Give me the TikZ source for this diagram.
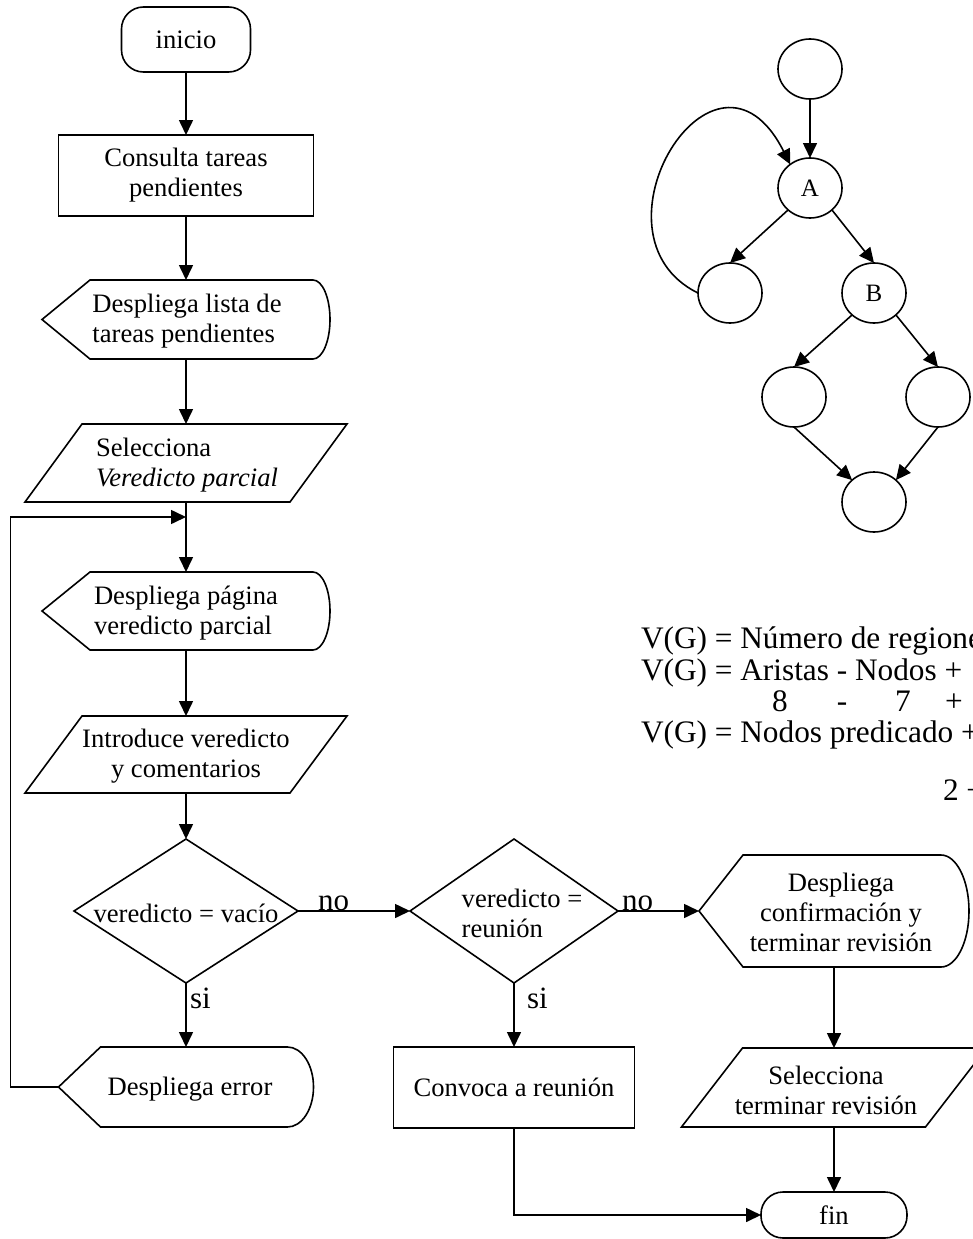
\documentclass[tikz,border=0pt]{standalone}
\usepackage{fontspec}
\setmainfont{Liberation Serif}
\usetikzlibrary{arrows.meta,calc,shapes.geometric}

\newcommand\flowfont{\fontsize{26.6pt}{30pt}\selectfont}
\newcommand\formfont{\fontsize{31.3pt}{35pt}\selectfont}
\newcommand\lblfont{\fontsize{31pt}{34pt}\selectfont}
\newcommand\gfont{\fontsize{25pt}{29pt}\selectfont}

% display symbol: pointed left end, curved right end
% #1 node, #2 corner offset, #3 arc x radius, #4 arc y radius
\newcommand\dispshape[4]{%
  \draw (#1.west) -- ($(#1.north west)+(#2,0)$) -- ($(#1.north east)+(-#3,0)$)
    arc[start angle=90, end angle=-90, x radius=#3pt, y radius=#4pt]
    -- ($(#1.south west)+(#2,0)$) -- cycle;}
% input/output parallelogram: #1 node, #2 slant
\newcommand\parashape[2]{%
  \draw (#1.south west) -- ($(#1.north west)+(#2,0)$) -- (#1.north east)
    -- ($(#1.south east)+(-#2,0)$) -- cycle;}
% decision rhombus
\newcommand\rhombshape[1]{%
  \draw (#1.north) -- (#1.east) -- (#1.south) -- (#1.west) -- cycle;}

\begin{document}
\begin{tikzpicture}[x=1pt,y=-1pt,line width=1.6pt,
  every node/.style={inner sep=0pt, outer sep=0pt},
  txt/.style={font=\flowfont, align=center},
  txtl/.style={font=\flowfont, align=left},
  term/.style={draw, rounded corners=22pt, font=\flowfont},
  proc/.style={draw, font=\flowfont, align=center},
  gnode/.style={draw, ellipse, minimum width=64pt, minimum height=60pt, font=\gfont},
  lbl/.style={font=\lblfont, anchor=base west},
  form/.style={font=\formfont, anchor=base west},
  arr/.style={-{Triangle[length=15pt,width=14pt]}}]

\useasboundingbox (0,0) rectangle (973,1239);
\clip (0,0) rectangle (973,1239);

% ---------- left column ----------
\node[term, minimum width=129pt, minimum height=65pt] (inicio) at (186,39.5) {inicio};
\node[proc, minimum width=255pt, minimum height=81pt] (consulta) at (186,175.5) {Consulta tareas\\pendientes};

\node[minimum width=288pt, minimum height=79pt] (lista) at (186,319.5) {};
\dispshape{lista}{48}{17}{39.5}
\node[txtl] (listat) at (187,321) {Despliega lista de\\tareas pendientes};

\node[minimum width=322pt, minimum height=78pt] (sel1) at (186,463) {};
\parashape{sel1}{57}
\node[txtl] (sel1t) at (187,465) {Selecciona\\\textit{Veredicto parcial}};

\coordinate (merge) at (186,517);

\node[minimum width=288pt, minimum height=78pt] (pagina) at (186,611) {};
\dispshape{pagina}{48}{17}{39}
\node[txtl] (paginat) at (186,613) {Despliega página\\veredicto parcial};

\node[minimum width=322pt, minimum height=77pt] (intro) at (186,754.5) {};
\parashape{intro}{57}
\node[txt] (introt) at (186,756) {Introduce veredicto\\y comentarios};

\node[minimum width=224pt, minimum height=144pt] (vacio) at (186,911) {};
\rhombshape{vacio}
\node[txt] (vaciot) at (186,913) {veredicto = vacío};

\node[minimum width=255pt, minimum height=80pt] (err) at (186,1087) {};
\dispshape{err}{42}{26}{40}
\node[txt] (errt) at (190,1089) {Despliega error};

% ---------- middle and right columns ----------
\node[minimum width=208pt, minimum height=144pt] (reunion) at (514,911) {};
\rhombshape{reunion}
\node[txtl] (reuniont) at (522,913) {veredicto =\\reunión};

\node[proc, minimum width=241pt, minimum height=81pt] (conv) at (514,1087.5) {Convoca a reunión};

\node[minimum width=270pt, minimum height=112pt] (confirm) at (834,911) {};
\dispshape{confirm}{44}{28}{56}
\node[txt] (confirmt) at (841,912) {Despliega\\confirmación y\\terminar revisión};

\node[minimum width=305pt, minimum height=79pt] (termina) at (834,1087.5) {};
\parashape{termina}{61}
\node[txt] (terminat) at (826,1090) {Selecciona\\terminar revisión};

\node[term, minimum width=146pt, minimum height=46pt] (fin) at (834,1215) {fin};

% ---------- flow connectors ----------
\draw[arr] (inicio.south) -- (consulta.north);
\draw[arr] (consulta.south) -- (lista.north);
\draw[arr] (lista.south) -- (sel1.north);
\draw[arr] (sel1.south) -- (pagina.north);
\draw[arr] (pagina.south) -- (intro.north);
\draw[arr] (intro.south) -- (vacio.north);
\draw[arr] (vacio.south) -- (err.north);
\draw[arr] (err.west) -- ++(-48,0) |- (merge);
\draw[arr] (vacio.east) -- (reunion.west);
\draw[arr] (reunion.south) -- (conv.north);
\draw[arr] (reunion.east) -- (confirm.west);
\draw[arr] (confirm.south) -- (termina.north);
\draw[arr] (termina.south) -- (fin.north);
\draw[arr] (conv.south) |- (fin.west);

\node[lbl] (no1) at (318,910) {no};
\node[lbl] (si1) at (190,1008) {si};
\node[lbl] (no2) at (622,910) {no};
\node[lbl] (si2) at (527,1008) {si};

% ---------- flow graph ----------
\node[gnode] (g0) at (810,69) {};
\node[gnode] (gA) at (810,188) {A};
\node[gnode] (gL) at (730,293) {};
\node[gnode] (gB) at (874,293) {B};
\node[gnode] (gC) at (794,397) {};
\node[gnode] (gD) at (938,397) {};
\node[gnode] (gE) at (874,502) {};

\draw[arr] (g0.south) -- (gA.north);
\draw[arr] (gA.225) -- (gL.north);
\draw[arr] (gA.-45) -- (gB.north);
\draw[arr] (gB.225) -- (gC.north);
\draw[arr] (gB.-45) -- (gD.north);
\draw[arr] (gC.south) -- (gE.135);
\draw[arr] (gD.south) -- (gE.45);
\draw[arr] (gL.west) .. controls (580,235) and (715,15) .. (gA.130);

% ---------- cyclomatic complexity ----------
\node[form] (f1) at (641,648) {V(G) = Número de regiones};
\node[form] (f2) at (641,680) {V(G) = Aristas - Nodos +};
\node[form, anchor=base] (f3a) at (780,711) {8};
\node[form, anchor=base] (f3b) at (842,711) {-};
\node[form, anchor=base] (f3c) at (903,711) {7};
\node[form, anchor=base] (f3d) at (954,711) {+};
\node[form] (f4) at (641,742) {V(G) = Nodos predicado +};
\node[form] (f5) at (943,800) {2 +};
\end{tikzpicture}
\end{document}
